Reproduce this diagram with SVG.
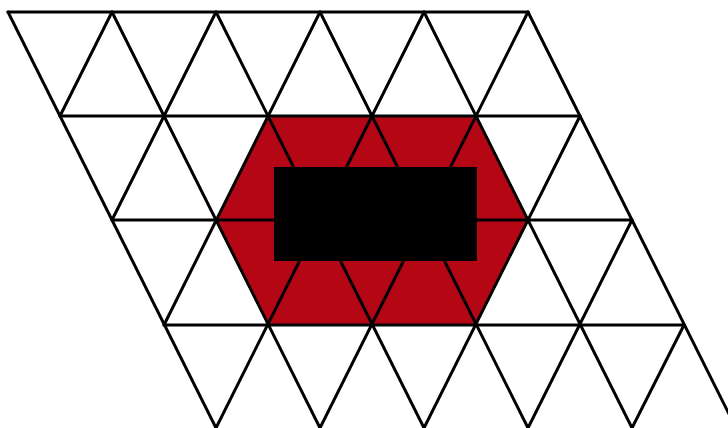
<svg xmlns="http://www.w3.org/2000/svg" width="728" height="428" viewBox="0 0 728 428">
<style>
.g line{stroke:#000;stroke-width:3;stroke-linecap:round}
</style>
<rect width="728" height="428" fill="#fff"/>
<g id="hexagon">
<polygon points="268,116 476,116 528,220 476,325 268,325 216,220" fill="#b40614"/>
</g>
<g id="grid" class="g">
<line x1="8" y1="12" x2="528" y2="12"/>
<line x1="60" y1="116" x2="580" y2="116"/>
<line x1="112" y1="220" x2="632" y2="220"/>
<line x1="164" y1="325" x2="684" y2="325"/>
<line x1="8" y1="12" x2="216" y2="428"/>
<line x1="112" y1="12" x2="320" y2="428"/>
<line x1="216" y1="12" x2="424" y2="428"/>
<line x1="320" y1="12" x2="528" y2="428"/>
<line x1="424" y1="12" x2="632" y2="428"/>
<line x1="528" y1="12" x2="736" y2="428"/>
<line x1="112" y1="12" x2="60" y2="116"/>
<line x1="216" y1="12" x2="112" y2="220"/>
<line x1="320" y1="12" x2="164" y2="325"/>
<line x1="424" y1="12" x2="216" y2="428"/>
<line x1="528" y1="12" x2="320" y2="428"/>
<line x1="580" y1="116" x2="424" y2="428"/>
<line x1="632" y1="220" x2="528" y2="428"/>
<line x1="684" y1="325" x2="632" y2="428"/>
</g>
<g id="block">
<rect x="274" y="167" width="203" height="94" fill="#000"/>
</g>
</svg>
